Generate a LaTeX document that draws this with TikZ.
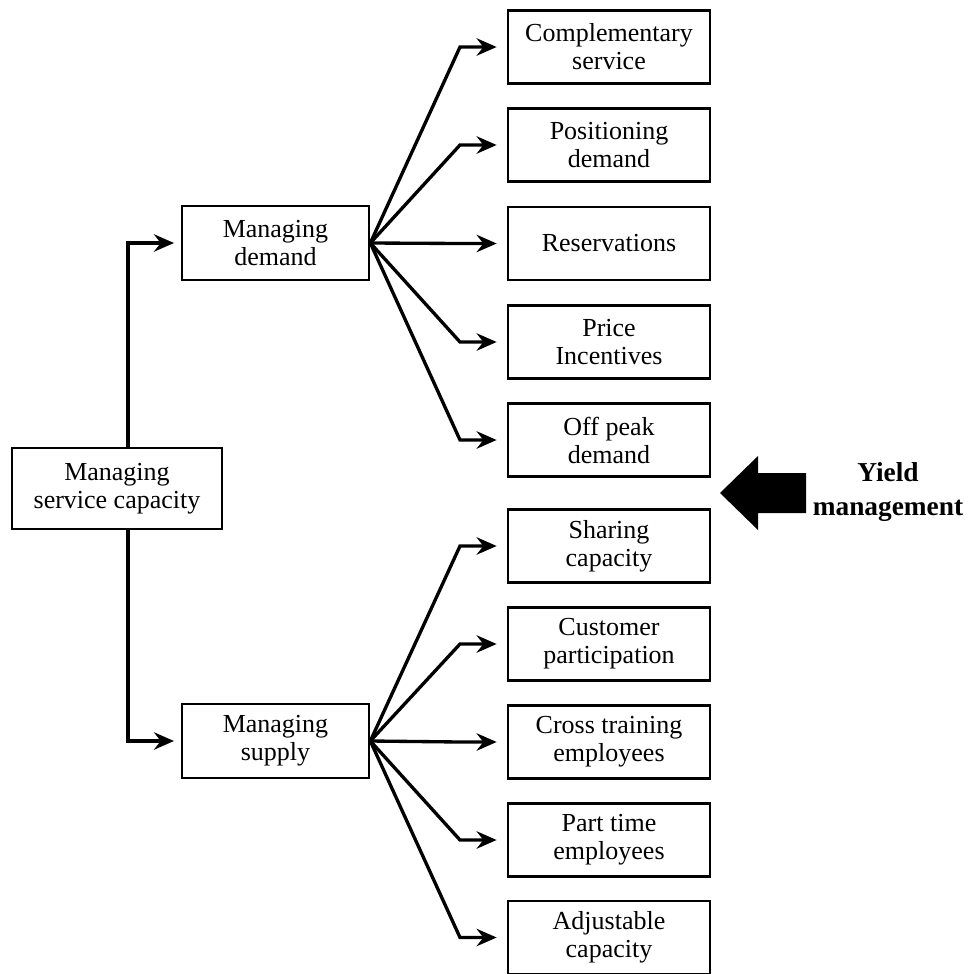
\documentclass[tikz,border=0pt]{standalone}
\usepackage{fontspec}
\setmainfont{Liberation Serif}
\usetikzlibrary{arrows.meta}
\begin{document}
\begin{tikzpicture}[x=0.75pt,y=-0.75pt,
  every node/.style={font=\fontsize{19.5}{21}\selectfont, align=center, inner sep=0pt},
  rootbox/.style={draw, line width=2pt, minimum width=157.5pt, minimum height=60.75pt},
  midbox/.style={draw, line width=2pt, minimum width=140.25pt, minimum height=55.5pt},
  leafbox/.style={draw, line width=2pt, minimum width=151.5pt, minimum height=54.75pt},
  link/.style={line width=2.5pt, line join=miter,
    -{Stealth[length=15pt, width=13pt, inset=5pt]}},
  bigarrow/.style={fill=black}
]
\useasboundingbox (0,0) rectangle (970,974);

% left-hand hierarchy
\node[rootbox] (root) at (117,488.5) {Managing\\service capacity};
\node[midbox] (dem) at (275.5,243) {Managing\\demand};
\node[midbox] (sup) at (275.5,741) {Managing\\supply};

% demand-side options
\node[leafbox] (d1) at (609,47)    {Complementary\\service};
\node[leafbox] (d2) at (609,145)   {Positioning\\demand};
\node[leafbox] (d3) at (609,243.5) {Reservations};
\node[leafbox] (d4) at (609,342)   {Price\\Incentives};
\node[leafbox] (d5) at (609,440)   {Off peak\\demand};

% supply-side options
\node[leafbox] (s1) at (609,546)   {Sharing\\capacity};
\node[leafbox] (s2) at (609,644)   {Customer\\participation};
\node[leafbox] (s3) at (609,742)   {Cross training\\employees};
\node[leafbox] (s4) at (609,840)   {Part time\\employees};
\node[leafbox] (s5) at (609,937.5) {Adjustable\\capacity};

% trunk and elbow columns
\coordinate (trunk) at (128,0);
\coordinate (elbow) at (460,0);

\draw[link, shorten >=5pt] (root.north -| trunk) |- (dem.west);
\draw[link, shorten >=5pt] (root.south -| trunk) |- (sup.west);

\foreach \t in {d1,d2,d3,d4,d5}
  \draw[link, shorten >=7.5pt] (dem.east) -- (\t.west -| elbow) -- (\t.west);
\foreach \t in {s1,s2,s3,s4,s5}
  \draw[link, shorten >=7.5pt] (sup.east) -- (\t.west -| elbow) -- (\t.west);

% yield management pointer
\node[font=\fontsize{20.5}{25}\selectfont\bfseries] (yield) at (888,492) {Yield\\management};
\coordinate (tip) at (720,493);
\fill[bigarrow] (tip) -- (758,456) -- (758,473) -- (806,473) -- (806,513)
  -- (758,513) -- (758,530) -- cycle;
\end{tikzpicture}
\end{document}
